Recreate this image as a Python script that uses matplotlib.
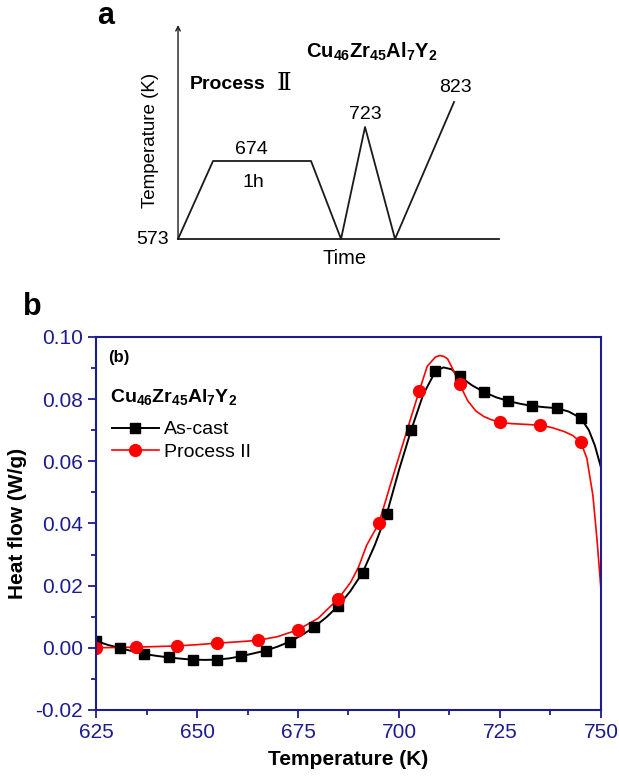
import numpy as np
import matplotlib
matplotlib.use('Agg')
import matplotlib.pyplot as plt

plt.rcParams['font.family'] = ['Liberation Sans', 'DejaVu Sans']
plt.rcParams['mathtext.fontset'] = 'custom'
plt.rcParams['mathtext.rm'] = 'Liberation Sans'
plt.rcParams['mathtext.bf'] = 'Liberation Sans:bold'

#=======================================================================================================================
# panel a : heat treatment schedule (schematic)
prof_time = [0, 3.5, 13.3, 16.3, 18.7, 21.7, 27.6]
prof_level = [0, 7.8, 7.8, 0, 11.2, 0, 13.7]
time_end = 32.1
level_top = 21.4

# panel b : DSC traces
ascast_T = [625, 628, 631, 634, 637, 640, 643, 646, 649, 652, 655, 658, 661, 664, 667, 670, 673, 676, 679, 682,
            685, 688, 691, 694, 697, 700, 703, 706, 709, 711, 713, 715, 718, 721, 724, 727, 730, 733, 736, 739,
            742, 745, 747, 748.5, 750]
ascast_hf = [0.0022, 0.0009, -0.0001, -0.0011, -0.0020, -0.0026, -0.0031, -0.0035, -0.0038, -0.0039, -0.0038,
             -0.0034, -0.0027, -0.0018, -0.0009, 0.0004, 0.0020, 0.0041, 0.0067, 0.0098, 0.0135, 0.0183, 0.0242,
             0.0330, 0.0432, 0.0572, 0.0700, 0.0815, 0.0889, 0.0902, 0.0896, 0.0873, 0.0845, 0.0823, 0.0806,
             0.0794, 0.0785, 0.0778, 0.0774, 0.0771, 0.0760, 0.0739, 0.0700, 0.0650, 0.0580]

proc2_T = [625, 630, 635, 640, 645, 650, 655, 660, 665, 670, 675, 680, 685, 688, 690, 692, 695, 698, 700, 702,
           705, 707, 709, 710, 711, 712, 713, 715, 717, 719, 721, 723, 725, 728, 731, 735, 738, 741, 743, 745,
           746.5, 748, 749, 750]
proc2_hf = [0.0000, 0.0001, 0.0002, 0.0004, 0.0006, 0.0010, 0.0015, 0.0019, 0.0024, 0.0036, 0.0058, 0.0095,
            0.0158, 0.0210, 0.0260, 0.0330, 0.0400, 0.0530, 0.0615, 0.0700, 0.0826, 0.0906, 0.0935, 0.0940,
            0.0938, 0.0930, 0.0905, 0.0848, 0.0795, 0.0762, 0.0744, 0.0733, 0.0725, 0.0721, 0.0719, 0.0716,
            0.0708, 0.0695, 0.0683, 0.0661, 0.0610, 0.0490, 0.0350, 0.0187]

# symbols
ascast_mT = [625, 631, 637, 643, 649, 655, 661, 667, 673, 679, 685, 691, 697, 703, 709, 715, 721, 727, 733, 739, 745]
ascast_mhf = [0.0022, -0.0001, -0.0020, -0.0031, -0.0038, -0.0038, -0.0027, -0.0009, 0.0020, 0.0067, 0.0135,
              0.0242, 0.0432, 0.0700, 0.0889, 0.0873, 0.0823, 0.0794, 0.0778, 0.0771, 0.0739]
proc2_mT = [625, 635, 645, 655, 665, 675, 685, 695, 705, 715, 725, 735, 745]
proc2_mhf = [0.0000, 0.0002, 0.0006, 0.0015, 0.0024, 0.0058, 0.0158, 0.0400, 0.0826, 0.0848, 0.0725, 0.0716, 0.0661]

navy = '#1c1c8e'

fig = plt.figure(figsize=(6.19, 7.76), dpi=100)

#=======================================================================================================================
ax_a = fig.add_axes([0.2876, 0.692, 0.5186, 0.2758])
ax_a.set_xlim(0, time_end)
ax_a.set_ylim(0, level_top)
ax_a.axis('off')

ax_a.plot(prof_time, prof_level, color='#1a1a1a', lw=1.3, clip_on=False)
ax_a.plot([0, time_end], [0, 0], color='#1a1a1a', lw=1.3, clip_on=False)
ax_a.annotate('', xy=(0, level_top), xytext=(0, 0),
              arrowprops=dict(arrowstyle='->', color='#1a1a1a', lw=1.0, shrinkA=0, shrinkB=0,
                              mutation_scale=8))

ax_a.text(-0.9, 0, '573', fontsize=14, ha='right', va='center')
ax_a.text(7.3, 8.9, '674', fontsize=14, ha='center', va='center')
ax_a.text(7.5, 5.7, '1h', fontsize=14, ha='center', va='center')
ax_a.text(18.7, 12.4, '723', fontsize=14, ha='center', va='center')
ax_a.text(27.7, 15.1, '823', fontsize=14, ha='center', va='center')
ax_a.text(16.7, -1.9, 'Time', fontsize=14.5, ha='center', va='center')
ax_a.text(-2.8, 9.9, 'Temperature (K)', fontsize=13.5, rotation=90, ha='center', va='center')
ax_a.text(1.2, 15.4, 'Process', fontsize=14, fontweight='bold', ha='left', va='center')
ax_a.text(10.6, 15.5, '\u2161', fontsize=18, family=['DejaVu Serif', 'Noto Sans CJK SC'], ha='center', va='center')
ax_a.text(19.4, 18.7, r'$\mathbf{Cu_{46}Zr_{45}Al_{7}Y_{2}}$', fontsize=14.5, ha='center', va='center')

fig.text(0.17, 0.979, 'a', fontsize=22, fontweight='bold', ha='center', va='center')
fig.text(0.052, 0.604, 'b', fontsize=22, fontweight='bold', ha='center', va='center')

#=======================================================================================================================
ax = fig.add_axes([0.1551, 0.0851, 0.8158, 0.4807])

ax.plot(ascast_T, ascast_hf, color='black', lw=1.4)
ax.plot(proc2_T, proc2_hf, color='red', lw=1.2)
ax.plot(ascast_mT, ascast_mhf, ls='none', marker='s', ms=7.5, color='black')
ax.plot(proc2_mT, proc2_mhf, ls='none', marker='o', ms=8.5, color='red')

# legend handles
ax.plot([], [], color='black', lw=1.4, marker='s', ms=7.5, label='As-cast')
ax.plot([], [], color='red', lw=1.2, marker='o', ms=8.5, label='Process II')
ax.legend(loc='upper left', bbox_to_anchor=(0.032, 0.775), frameon=False, fontsize=14,
          handlelength=2.4, handletextpad=0.25, labelspacing=0.25, borderpad=0, borderaxespad=0,
          markerfirst=True, numpoints=1)

ax.text(0.024, 0.944, '(b)', transform=ax.transAxes, fontsize=12, fontweight='bold', ha='left', va='center')
ax.text(0.028, 0.839, r'$\mathbf{Cu_{46}Zr_{45}Al_{7}Y_{2}}$', transform=ax.transAxes, fontsize=14,
        ha='left', va='center')

ax.set_xlim(625, 750)
ax.set_ylim(-0.02, 0.10)
ax.set_xticks([625, 650, 675, 700, 725, 750])
ax.set_xticks(np.arange(637.5, 750, 25), minor=True)
ax.set_yticks([-0.02, 0.00, 0.02, 0.04, 0.06, 0.08, 0.10])
ax.set_yticks(np.arange(-0.01, 0.1, 0.02), minor=True)
ax.set_yticklabels(['-0.02', '0.00', '0.02', '0.04', '0.06', '0.08', '0.10'])

for sp in ax.spines.values():
    sp.set_color(navy)
    sp.set_linewidth(1.5)
ax.tick_params(axis='both', which='both', direction='out', color=navy, labelcolor=navy, width=1.3,
               top=False, right=False)
ax.tick_params(which='major', length=6, labelsize=15)
ax.tick_params(which='minor', length=3.5)

ax.set_xlabel('Temperature (K)', fontsize=15, fontweight='bold', labelpad=6)
ax.set_ylabel('Heat flow (W/g)', fontsize=15, fontweight='bold', labelpad=6)

fig.savefig('out.png', dpi=100)
